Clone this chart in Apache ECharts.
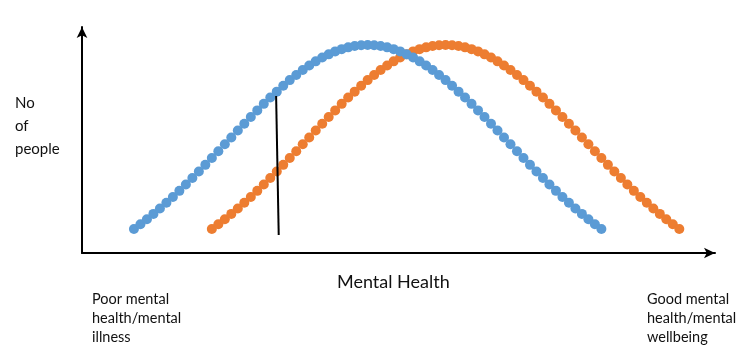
<!DOCTYPE html>
<html>
<head>
<meta charset="utf-8">
<script src="https://cdn.jsdelivr.net/npm/echarts@6/dist/echarts.min.js"></script>
<style>
html,body{margin:0;padding:0;background:#fff;}
#chart{width:746px;height:356px;}
</style>
</head>
<body>
<div id="chart"></div>
<script>
// Number of people, one value per dot
const poorGroupValues = [10.6,12.7,14.9,17.3,19.7,22.2,24.8,27.5,30.3,33.2,36.1,39.0,42.0,45.0,48.1,51.1,54.2,57.2,60.2,63.1,66.0,68.8,71.4,74.0,76.5,78.8,81.0,83.0,84.8,86.5,87.9,89.2,90.2,91.0,91.6,91.9,92.0,91.9,91.6,91.0,90.2,89.2,87.9,86.5,84.8,83.0,81.0,78.8,76.5,74.0,71.4,68.8,66.0,63.1,60.2,57.2,54.2,51.1,48.1,45.0,42.0,39.0,36.1,33.2,30.3,27.5,24.8,22.2,19.7,17.3,14.9,12.7,10.6];
const goodGroupValues = [10.6,12.7,14.9,17.3,19.7,22.2,24.8,27.5,30.3,33.2,36.1,39.0,42.0,45.0,48.1,51.1,54.2,57.2,60.2,63.1,66.0,68.8,71.4,74.0,76.5,78.8,81.0,83.0,84.8,86.5,87.9,89.2,90.2,91.0,91.6,91.9,92.0,91.9,91.6,91.0,90.2,89.2,87.9,86.5,84.8,83.0,81.0,78.8,76.5,74.0,71.4,68.8,66.0,63.1,60.2,57.2,54.2,51.1,48.1,45.0,42.0,39.0,36.1,33.2,30.3,27.5,24.8,22.2,19.7,17.3,14.9,12.7,10.6];
const poorGroupStart = 0;   // mental health score of first blue dot
const goodGroupStart = 12;  // mental health score of first orange dot
const markerLine = [[21.9, 69.5], [22.3, 8.0]];
const xRange = [-8, 89.5];
const yRange = [0, 100];
const yAxisLabel = 'No\nof\npeople';
const xAxisLabel = 'Mental Health';
const leftLabel = 'Poor mental\nhealth/mental\nillness';
const rightLabel = 'Good mental\nhealth/mental\nwellbeing';

const toPoints = (vals, start) => vals.map((v, i) => [start + i, v]);

const chart = echarts.init(document.getElementById('chart'));
const font = 'Lato, "Open Sans", sans-serif';
chart.setOption({
  animation: false,
  backgroundColor: '#fff',
  grid: {left: 82, right: 31, top: 27, bottom: 103},
  xAxis: {
    type: 'value', min: xRange[0], max: xRange[1],
    axisLine: {show: true, onZero: false, lineStyle: {color: '#000', width: 2}, symbol: ['none', 'arrow'], symbolSize: [8, 11]},
    axisTick: {show: false}, axisLabel: {show: false}, splitLine: {show: false}
  },
  yAxis: {
    type: 'value', min: yRange[0], max: yRange[1],
    axisLine: {show: true, onZero: false, lineStyle: {color: '#000', width: 2}, symbol: ['none', 'arrow'], symbolSize: [8, 11]},
    axisTick: {show: false}, axisLabel: {show: false}, splitLine: {show: false}
  },
  series: [
    {type: 'scatter', data: toPoints(poorGroupValues, poorGroupStart), symbol: 'circle', symbolSize: 10,
     itemStyle: {color: '#5B9BD5', opacity: 1}, z: 3},
    {type: 'scatter', data: toPoints(goodGroupValues, goodGroupStart), symbol: 'circle', symbolSize: 10,
     itemStyle: {color: '#ED7D31', opacity: 1}, z: 2},
    {type: 'line', data: markerLine, showSymbol: false, symbol: 'none',
     lineStyle: {color: '#000', width: 2}, z: 4}
  ],
  graphic: [
    {type: 'text', left: 15, top: 92, style: {text: yAxisLabel, font: '15px ' + font, lineHeight: 23, fill: '#111'}},
    {type: 'text', left: 337, top: 273, style: {text: xAxisLabel, font: '18px ' + font, fill: '#111'}},
    {type: 'text', left: 92, top: 290, style: {text: leftLabel, font: '14.5px ' + font, lineHeight: 19, fill: '#111'}},
    {type: 'text', left: 647, top: 290, style: {text: rightLabel, font: '14.5px ' + font, lineHeight: 19, fill: '#111'}}
  ]
});
</script>
</body>
</html>
